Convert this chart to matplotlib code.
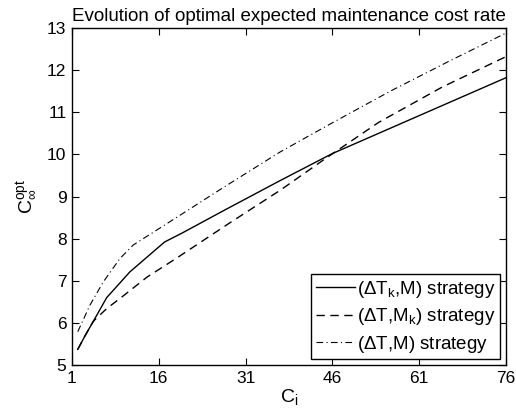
import matplotlib
matplotlib.use('Agg')
import matplotlib.pyplot as plt

solid_x = [2, 3.2, 4.7, 7, 11, 17, 20, 27, 37, 46, 56, 66, 76]
solid_y = [5.37, 5.68, 6.04, 6.6, 7.21, 7.92, 8.13, 8.65, 9.38, 10.02, 10.62, 11.22, 11.82]

dashed_x = [2, 3.2, 4.7, 7, 9.3, 14, 19, 28, 37, 45, 54, 65, 76]
dashed_y = [5.37, 5.68, 6.04, 6.34, 6.58, 7.09, 7.53, 8.35, 9.15, 9.92, 10.76, 11.6, 12.32]

dashdot_x = [2, 4.1, 6.4, 9.3, 11.6, 17.9, 27, 37, 46, 56, 66, 76]
dashdot_y = [5.79, 6.42, 6.97, 7.53, 7.85, 8.4, 9.2, 10.06, 10.75, 11.5, 12.2, 12.88]

labels = [r'($\Delta$T$_k$,M) strategy', r'($\Delta$T,M$_k$) strategy', r'($\Delta$T,M) strategy']
xticks = [1, 16, 31, 46, 61, 76]
yticks = [5, 6, 7, 8, 9, 10, 11, 12, 13]

plt.rcParams['font.family'] = ['Liberation Sans', 'DejaVu Sans']
plt.rcParams['mathtext.fontset'] = 'custom'
plt.rcParams['mathtext.rm'] = 'Liberation Sans'
plt.rcParams['mathtext.it'] = 'Liberation Sans'

fig = plt.figure(figsize=(5.16, 4.18), dpi=100)
ax = fig.add_axes([0.1395, 0.1268, 0.8411, 0.8062])

ax.plot(solid_x, solid_y, color='k', lw=1.0, ls='-', label=labels[0])
ax.plot(dashed_x, dashed_y, color='k', lw=1.0, ls=(0, (6, 4)), label=labels[1])
ax.plot(dashdot_x, dashdot_y, color='k', lw=0.8, ls=(0, (6, 3, 1, 3)), label=labels[2])

ax.set_xlim(1, 76)
ax.set_ylim(5, 13)
ax.set_xticks(xticks)
ax.set_yticks(yticks)
ax.tick_params(direction='in', top=True, right=True, labelsize=12.5, length=5, pad=4)
for s in ax.spines.values():
    s.set_linewidth(1.0)

ax.set_xlabel(r'C$_\mathregular{i}$', fontsize=14, labelpad=1)
ax.set_ylabel(r'C$_\infty^{\mathregular{opt}}$', fontsize=14, labelpad=6)
ax.set_title('Evolution of optimal expected maintenance cost rate', fontsize=13.5, pad=5)

leg = ax.legend(loc='lower right', fontsize=13.5, fancybox=False, edgecolor='k',
                framealpha=1, borderaxespad=0.3, handlelength=2.1, handletextpad=0.1,
                labelspacing=0.35, borderpad=0.25)
leg.get_frame().set_linewidth(1.0)

fig.savefig('out.png', dpi=100)
